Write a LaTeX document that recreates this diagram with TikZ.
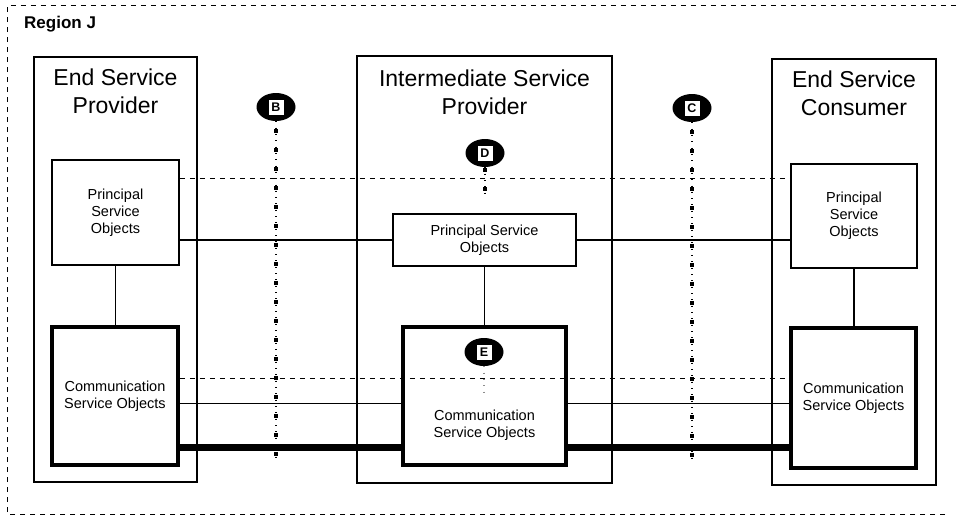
\documentclass[tikz,border=0pt]{standalone}
\usepackage{fontspec}
\setmainfont{Liberation Sans}
\usetikzlibrary{shapes.geometric}
\begin{document}
\begin{tikzpicture}[x=1pt,y=-1pt,
  every node/.style={inner sep=0pt},
  party/.style={draw, line width=1.8pt},
  psobox/.style={draw, line width=1.8pt, align=center,
    font=\fontsize{14.5}{17}\selectfont},
  csobox/.style={draw, line width=3.5pt, align=center,
    font=\fontsize{14.5}{17}\selectfont},
  boxtext/.style={align=center, font=\fontsize{14.5}{17}\selectfont},
  title/.style={align=center, font=\fontsize{23}{28}\selectfont},
  link/.style={line width=1.8pt},
  heavylink/.style={line width=6.5pt},
  dashlink/.style={line width=1pt, dash pattern=on 5pt off 5pt},
  borderline/.style={line width=1pt, dash pattern=on 5pt off 5pt},
  cutbar/.style={line width=3.2pt, dash pattern=on 3.5pt off 15.5pt},
  cutdot/.style={line width=1.2pt, dash pattern=on 1pt off 5.33pt},
  marker/.style={ellipse, fill=black, minimum width=39pt, minimum height=28pt},
  tag/.style={fill=white, minimum width=15pt, minimum height=15pt,
    font=\bfseries\fontsize{12.5}{12.5}\selectfont}
]
\useasboundingbox (0,0) rectangle (960,519);

% region frame (open on the right)
\draw[borderline] (945,514) -- (7,514) -- (7,6) -- (960,6);
\node[anchor=west, font=\bfseries\fontsize{17}{17}\selectfont] (region) at (24,24) {Region J};

% the three parties
\node[party, minimum width=163pt, minimum height=425pt] (esp) at (115.5,269.5) {};
\node[party, minimum width=255pt, minimum height=427pt] (isp) at (484.5,269.5) {};
\node[party, minimum width=164pt, minimum height=426pt] (esc) at (854,272) {};
\node[title] (espT) at (115.5,91) {End Service\\Provider};
\node[title] (ispT) at (484.5,92) {Intermediate Service\\Provider};
\node[title] (escT) at (854,93.5) {End Service\\Consumer};

% principal service objects
\node[psobox, minimum width=127pt, minimum height=105pt] (pso1) at (115.5,212.5) {Principal\\Service\\Objects};
\node[psobox, minimum width=183pt, minimum height=52pt] (pso2) at (484.5,240) {Principal Service\\Objects};
\node[psobox, minimum width=126pt, minimum height=104pt] (pso3) at (854,216) {Principal\\Service\\Objects};

% communication service objects
\node[csobox, minimum width=126pt, minimum height=138pt] (cso1) at (115,396) {Communication\\Service Objects};
\node[csobox, minimum width=163pt, minimum height=138pt] (cso2) at (484.5,396) {};
\node[boxtext] (cso2T) at (484.5,425) {Communication\\Service Objects};
\node[csobox, minimum width=125pt, minimum height=140pt] (cso3) at (853.5,398) {Communication\\Service Objects};

% vertical links inside each party
\draw[link] (pso1.south) -- (cso1.north -| pso1.south);
\draw[link] (pso2.south) -- (cso2.north);
\draw[link] (pso3.south) -- (cso3.north -| pso3.south);

% levels of the horizontal links
\coordinate (yU) at (0,178);
\coordinate (yL) at (0,378);
\coordinate (yS) at (0,403.5);
\coordinate (yH) at (0,447.5);

% principal level
\draw[dashlink] (pso1.east |- yU) -- (pso3.west |- yU);
\draw[link] (pso1.east |- pso2.west) -- (pso2.west);
\draw[link] (pso2.east) -- (pso3.west |- pso2.east);

% communication level
\draw[dashlink] (cso1.east |- yL) -- (cso3.west |- yL);
\draw[link] (cso1.east |- yS) -- (cso2.west |- yS);
\draw[link] (cso2.east |- yS) -- (cso3.west |- yS);
\draw[heavylink] (cso1.east |- yH) -- (cso2.west |- yH);
\draw[heavylink] (cso2.east |- yH) -- (cso3.west |- yH);

% reference points
\node[marker] (mB) at (276,107) {};
\node[tag] (tB) at (mB) {B};
\node[marker] (mC) at (692,108) {};
\node[tag] (tC) at (mC) {C};
\node[marker] (mD) at (485,153) {};
\node[tag] (tD) at (mD) {D};
\node[marker] (mE) at (484,352) {};
\node[tag] (tE) at (mE) {E};

\coordinate (endB) at (276,460);
\coordinate (endC) at (692,462);
\coordinate (endD) at (485,194);
\coordinate (endE) at (484,392);

\draw[cutbar, dash phase=-8pt] (mB.south) -- (endB);
\draw[cutdot] (mB.south) -- (endB);
\draw[cutbar, dash phase=-8pt] (mC.south) -- (endC);
\draw[cutdot] (mC.south) -- (endC);
\draw[cutbar, dash phase=-20pt] (mD.south) -- (endD);
\draw[cutdot] (mD.south) -- (endD);
\draw[cutdot, black!45] (mE.south) -- (endE);
\end{tikzpicture}
\end{document}
